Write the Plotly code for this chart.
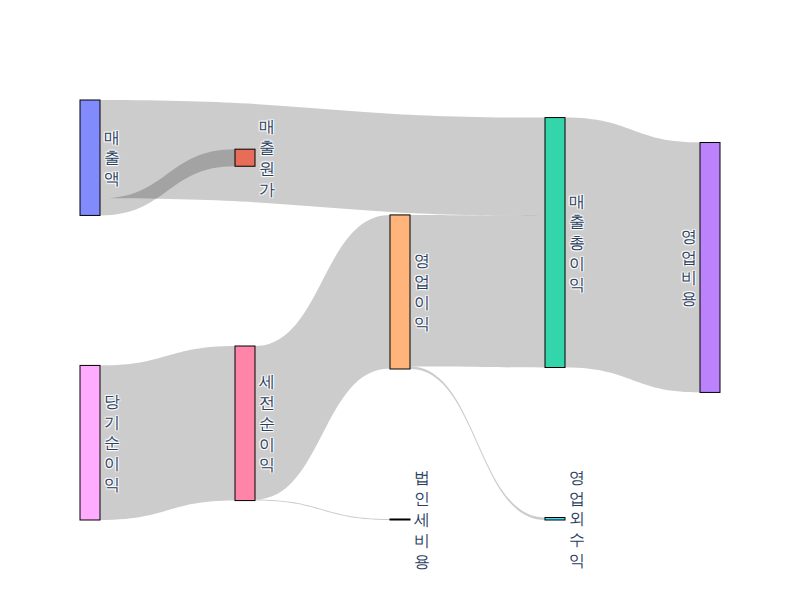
import plotly.graph_objects as go

labels = ["매출액", "매출원가", "매출총이익", "영업비용", "영업이익",
          "영업외수익", "세전순이익", "법인세비용", "당기순이익"]

sources = ["매출액", "매출액", "매출총이익", "영업이익", "영업이익",
           "세전순이익", "세전순이익", "당기순이익"]
targets = ["매출원가", "매출총이익", "영업비용", "매출총이익", "영업외수익",
           "영업이익", "법인세비용", "세전순이익"]
values = [17, 98, 249, 151, 2.5, 153, 1, 154]

idx = {l: i for i, l in enumerate(labels)}
vertical = ["<br>".join(list(l)) for l in labels]

fig = go.Figure(go.Sankey(
    node=dict(label=vertical, pad=150, thickness=20, align="left",
              line=dict(color="black", width=1)),
    link=dict(source=[idx[s] for s in sources],
              target=[idx[t] for t in targets],
              value=values),
    textfont=dict(size=16),
))
fig.update_layout(width=792, height=592,
                  margin=dict(l=72, r=80, t=92, b=80))
fig.write_html("out.html")
